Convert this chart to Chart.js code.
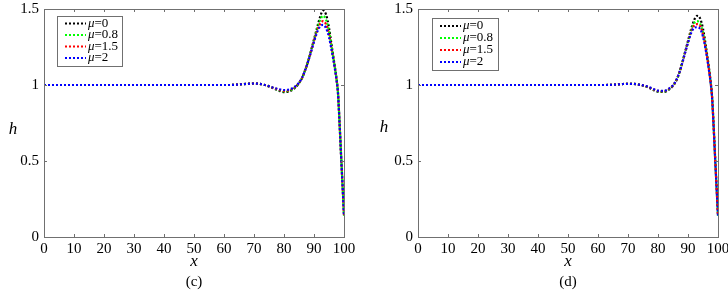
<!DOCTYPE html>
<html><head><meta charset="utf-8">
<script src="https://cdn.jsdelivr.net/npm/chart.js@4.4.0/dist/chart.umd.min.js"></script>
<style>
html,body{margin:0;padding:0;background:#fff;width:728px;height:295px;overflow:hidden}
.p{position:absolute;top:0;width:364px;height:295px}
</style></head><body>
<div class="p" style="left:0"><canvas id="c1" width="364" height="295"></canvas></div>
<div class="p" style="left:364px"><canvas id="c2" width="364" height="295"></canvas></div>
<script>
const xValues = [0,10,20,30,40,50,60,62,64,66,68,70,72,74,76,78,80,82,84,85,86,87,88,89,90,91,92,93,94,95,96,97,97.5,98,98.5,99,99.5,100];
const xTicks = [0,10,20,30,40,50,60,70,80,90,100];
const yTicks = [0,0.5,1,1.5];
const muLabels = ['0','0.8','1.5','2'];
const seriesColors = ['#000000','#00ff00','#ff0000','#0000ff'];

// panel (c)
const c_mu0  = [1,1,1,1,1,1,1,1.000,1.002,1.005,1.008,1.010,1.007,0.998,0.982,0.965,0.953,0.960,0.988,1.012,1.045,1.095,1.155,1.225,1.300,1.375,1.445,1.490,1.465,1.375,1.245,1.115,1.045,0.950,0.760,0.550,0.350,0.140];
const c_mu08 = [1,1,1,1,1,1,1,1.000,1.002,1.005,1.008,1.010,1.007,0.998,0.983,0.968,0.958,0.964,0.990,1.013,1.045,1.095,1.155,1.223,1.295,1.365,1.425,1.455,1.430,1.355,1.235,1.110,1.040,0.948,0.758,0.548,0.348,0.140];
const c_mu15 = [1,1,1,1,1,1,1,1.000,1.002,1.005,1.008,1.010,1.007,0.998,0.984,0.971,0.962,0.968,0.992,1.014,1.046,1.095,1.154,1.220,1.290,1.355,1.400,1.420,1.400,1.335,1.225,1.105,1.036,0.946,0.756,0.546,0.346,0.140];
const c_mu2  = [1,1,1,1,1,1,1,1.000,1.002,1.005,1.008,1.010,1.007,0.998,0.985,0.974,0.967,0.972,0.994,1.015,1.047,1.095,1.152,1.216,1.285,1.345,1.385,1.395,1.375,1.315,1.215,1.100,1.032,0.944,0.754,0.544,0.344,0.140];

// panel (d)
const d_mu0  = [1,1,1,1,1,1,1,1.000,1.001,1.003,1.006,1.008,1.007,1.001,0.990,0.972,0.956,0.955,0.975,0.995,1.025,1.075,1.140,1.215,1.290,1.365,1.425,1.455,1.440,1.370,1.250,1.110,1.030,0.930,0.750,0.540,0.340,0.140];
const d_mu08 = [1,1,1,1,1,1,1,1.000,1.001,1.003,1.006,1.008,1.007,1.001,0.991,0.974,0.959,0.958,0.977,0.996,1.026,1.075,1.140,1.213,1.285,1.355,1.405,1.420,1.405,1.345,1.235,1.105,1.027,0.928,0.748,0.538,0.338,0.140];
const d_mu15 = [1,1,1,1,1,1,1,1.000,1.001,1.003,1.006,1.008,1.007,1.001,0.992,0.976,0.961,0.960,0.979,0.997,1.027,1.075,1.139,1.211,1.282,1.348,1.390,1.400,1.388,1.332,1.228,1.100,1.024,0.926,0.746,0.536,0.336,0.140];
const d_mu2  = [1,1,1,1,1,1,1,1.000,1.001,1.003,1.006,1.008,1.007,1.001,0.993,0.978,0.963,0.962,0.981,0.998,1.028,1.075,1.138,1.209,1.278,1.340,1.375,1.380,1.370,1.318,1.220,1.095,1.020,0.924,0.744,0.534,0.334,0.140];

const SERIF = '"Liberation Serif","Times New Roman",serif';

function makeDatasets(series) {
  return series.map((vals, i) => ({
    label: '\u03bc=' + muLabels[i],
    data: xValues.map((x, k) => ({x: x, y: vals[k]})),
    borderColor: seriesColors[i],
    backgroundColor: seriesColors[i],
    borderWidth: 2.2,
    borderDash: [2, 2],
    pointRadius: 0,
    fill: false,
    cubicInterpolationMode: 'monotone',
    order: series.length - 1 - i
  }));
}

function framePlugin(cfg) {
  return {
    id: 'frame' + cfg.tag,
    afterDraw(chart) {
      const ctx = chart.ctx, a = chart.chartArea;
      const xs = chart.scales.x, ys = chart.scales.y;
      ctx.save();
      ctx.strokeStyle = '#707070';
      ctx.lineWidth = 1;
      ctx.setLineDash([]);
      ctx.strokeRect(Math.round(a.left) + 0.5, Math.round(a.top) + 0.5, Math.round(a.right - a.left), Math.round(a.bottom - a.top));
      const tl = 3;
      ctx.beginPath();
      xTicks.forEach(v => {
        const px = Math.round(xs.getPixelForValue(v)) + 0.5;
        ctx.moveTo(px, a.bottom); ctx.lineTo(px, a.bottom - tl);
        ctx.moveTo(px, a.top); ctx.lineTo(px, a.top + tl);
      });
      yTicks.forEach(v => {
        const py = Math.round(ys.getPixelForValue(v)) + 0.5;
        ctx.moveTo(a.left, py); ctx.lineTo(a.left + tl, py);
        ctx.moveTo(a.right, py); ctx.lineTo(a.right - tl, py);
      });
      ctx.stroke();

      // axis titles and panel label
      ctx.fillStyle = '#000';
      ctx.textAlign = 'center';
      ctx.textBaseline = 'middle';
      ctx.font = 'italic 17px ' + SERIF;
      ctx.fillText('x', (a.left + a.right) / 2, 262);
      ctx.fillText('h', cfg.hX, cfg.hY);
      ctx.font = '15px ' + SERIF;
      ctx.fillText(cfg.panel, (a.left + a.right) / 2, 282);

      // legend
      const b = cfg.box;
      ctx.fillStyle = '#fff';
      ctx.fillRect(b[0], b[1], b[2] - b[0], b[3] - b[1]);
      ctx.strokeStyle = '#707070';
      ctx.strokeRect(b[0] + 0.5, b[1] + 0.5, b[2] - b[0], b[3] - b[1]);
      chart.data.datasets.forEach((ds, i) => {
        const y = cfg.rows[i];
        ctx.strokeStyle = ds.borderColor;
        ctx.lineWidth = 2.2;
        ctx.setLineDash([2, 2]);
        ctx.beginPath();
        ctx.moveTo(cfg.line[0], y); ctx.lineTo(cfg.line[1], y);
        ctx.stroke();
        ctx.setLineDash([]);
        ctx.fillStyle = '#000';
        ctx.textAlign = 'left';
        ctx.textBaseline = 'middle';
        ctx.font = 'italic 13px ' + SERIF;
        ctx.fillText('\u03bc', cfg.textX, y);
        const w = ctx.measureText('\u03bc').width;
        ctx.font = '13px ' + SERIF;
        ctx.fillText('=' + muLabels[i], cfg.textX + w, y);
      });
      ctx.restore();
    }
  };
}

function makeChart(id, series, cfg) {
  return new Chart(document.getElementById(id), {
    type: 'line',
    data: { datasets: makeDatasets(series) },
    options: {
      responsive: false,
      devicePixelRatio: 1,
      animation: false,
      layout: { padding: { top: 9, right: cfg.padRight, left: 0, bottom: 0 } },
      plugins: { legend: { display: false }, tooltip: { enabled: false } },
      scales: {
        x: {
          type: 'linear', min: 0, max: 100,
          grid: { display: false, drawTicks: false },
          border: { display: false },
          afterBuildTicks: s => { s.ticks = xTicks.map(v => ({value: v})); },
          afterFit: s => { s.height = 58; s.paddingLeft = 0; s.paddingRight = 0; },
          ticks: { color: '#000', padding: 3, maxRotation: 0, autoSkip: false,
                   font: { family: SERIF, size: 15 } }
        },
        y: {
          type: 'linear', min: 0, max: 1.5,
          grid: { display: false, drawTicks: false },
          border: { display: false },
          afterBuildTicks: s => { s.ticks = yTicks.map(v => ({value: v})); },
          afterFit: s => { s.width = cfg.yWidth; s.paddingTop = 0; s.paddingBottom = 0; },
          ticks: { color: '#000', padding: 5, autoSkip: false,
                   font: { family: SERIF, size: 15 },
                   callback: v => String(v) }
        }
      }
    },
    plugins: [framePlugin(cfg)]
  });
}

makeChart('c1', [c_mu0, c_mu08, c_mu15, c_mu2], {
  tag: 'c', panel: '(c)', padRight: 20, yWidth: 44, hX: 13, hY: 130,
  box: [57, 16, 122, 66], rows: [23.5, 35, 46.5, 58], line: [65, 86], textX: 88
});
makeChart('c2', [d_mu0, d_mu08, d_mu15, d_mu2], {
  tag: 'd', panel: '(d)', padRight: 10, yWidth: 54, hX: 20, hY: 128,
  box: [68, 18, 134, 70], rows: [26, 38, 50, 62], line: [76, 97], textX: 99
});
</script>
</body></html>
